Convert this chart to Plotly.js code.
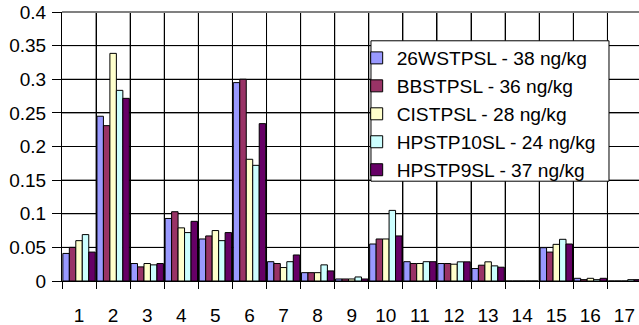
<!DOCTYPE html>
<html>
<head>
<meta charset="utf-8">
<script src="https://cdn.plot.ly/plotly-3.0.1.min.js"></script>
<style>html,body{margin:0;padding:0;background:#fff;}#chart{width:639px;height:325px;}</style>
</head>
<body>
<div id="chart"></div>
<script>
var categories = ["1","2","3","4","5","6","7","8","9","10","11","12","13","14","15","16","17"];
var seriesNames = ["26WSTPSL - 38 ng/kg","BBSTPSL - 36 ng/kg","CISTPSL - 28 ng/kg","HPSTP10SL - 24 ng/kg","HPSTP9SL - 37 ng/kg"];
var s26WSTPSL = [0.041,0.245,0.026,0.093,0.0625,0.295,0.0287,0.0124,0.003,0.055,0.0287,0.026,0.0185,0,0.0495,0.004,0];
var sBBSTPSL  = [0.050,0.231,0.021,0.103,0.067,0.300,0.026,0.0124,0.003,0.0625,0.026,0.026,0.0235,0,0.043,0.002,0];
var sCISTPSL  = [0.060,0.3385,0.026,0.079,0.075,0.181,0.020,0.0124,0.003,0.0625,0.026,0.025,0.0285,0,0.0545,0.004,0];
var sHPSTP10SL= [0.069,0.2835,0.024,0.072,0.060,0.172,0.0287,0.024,0.006,0.105,0.0287,0.0285,0.0225,0,0.062,0.002,0.002];
var sHPSTP9SL = [0.043,0.2716,0.026,0.0887,0.072,0.234,0.0387,0.015,0.003,0.067,0.0287,0.0285,0.0205,0,0.055,0.004,0.002];
var yTicks = [0,0.05,0.1,0.15,0.2,0.25,0.3,0.35,0.4];
var colors = ["#9999FF","#993366","#FFFFCC","#CCFFFF","#660066"];

var allSeries = [s26WSTPSL,sBBSTPSL,sCISTPSL,sHPSTP10SL,sHPSTP9SL];
var xpos = categories.map(function(c,i){return i+1;});
var boundaries = xpos.map(function(v){return v-0.5;});
var traces = allSeries.map(function(v,i){
  return {type:'bar', x:xpos, y:v, name:seriesNames[i],
    marker:{color:colors[i], line:{color:'#000', width:1}}};
});
var FONT = "Liberation Sans, Arial, sans-serif";

var gridShapes = [];
yTicks.slice(1, yTicks.length-1).forEach(function(t){
  gridShapes.push({type:'line', xref:'paper', yref:'y', x0:0, x1:1, y0:t, y1:t,
    line:{color:'#000', width:1}, layer:'between'});
});
boundaries.slice(1).forEach(function(b){
  gridShapes.push({type:'line', xref:'x', yref:'paper', x0:b, x1:b, y0:0, y1:1,
    line:{color:'#000', width:1}, layer:'above'});
});
gridShapes.push({type:'line', xref:'paper', yref:'paper', x0:0, x1:1, y0:1, y1:1, line:{color:'#808080', width:2}, layer:'above'});
gridShapes.push({type:'rect', xref:'paper', yref:'paper', x0:0.5355, x1:0.948, y0:0.371, y1:0.893, fillcolor:'#fff', line:{color:'#000', width:1}, layer:'above'});

var layout = {
  width:639, height:325,
  margin:{l:62, r:0, t:12, b:44},
  barmode:'group', bargap:0.05, bargroupgap:0,
  font:{family:FONT, color:'#000'},
  showlegend:true,
  legend:{x:0.5107, y:0.90, xanchor:'left', yanchor:'top', bgcolor:'rgba(0,0,0,0)', borderwidth:0,
    font:{family:FONT, size:19.2, color:'#000'}},
  xaxis:{range:[0.5,17.426], tickmode:'array', tickvals:boundaries, ticktext:categories,
    ticks:'outside', ticklen:7, tickcolor:'#000', tickwidth:1,
    showgrid:true, gridcolor:'#000', gridwidth:1, ticklabelshift:17,
    zeroline:false, showline:true, linecolor:'#000', linewidth:1, automargin:false,
    tickfont:{family:FONT, size:19, color:'#000'}, ticklabelstandoff:10},
  yaxis:{range:[0,0.4], tickmode:'array', tickvals:yTicks, ticks:'outside', ticklen:9, tickcolor:'#000',
    showgrid:true, gridcolor:'#000', gridwidth:1, zeroline:false, showline:true, linecolor:'#000', linewidth:1,
    automargin:false, ticklabelstandoff:2, tickfont:{family:FONT, size:19, color:'#000'}},
  shapes: gridShapes
};
Plotly.newPlot('chart', traces, layout, {displayModeBar:false});
</script>
</body>
</html>
